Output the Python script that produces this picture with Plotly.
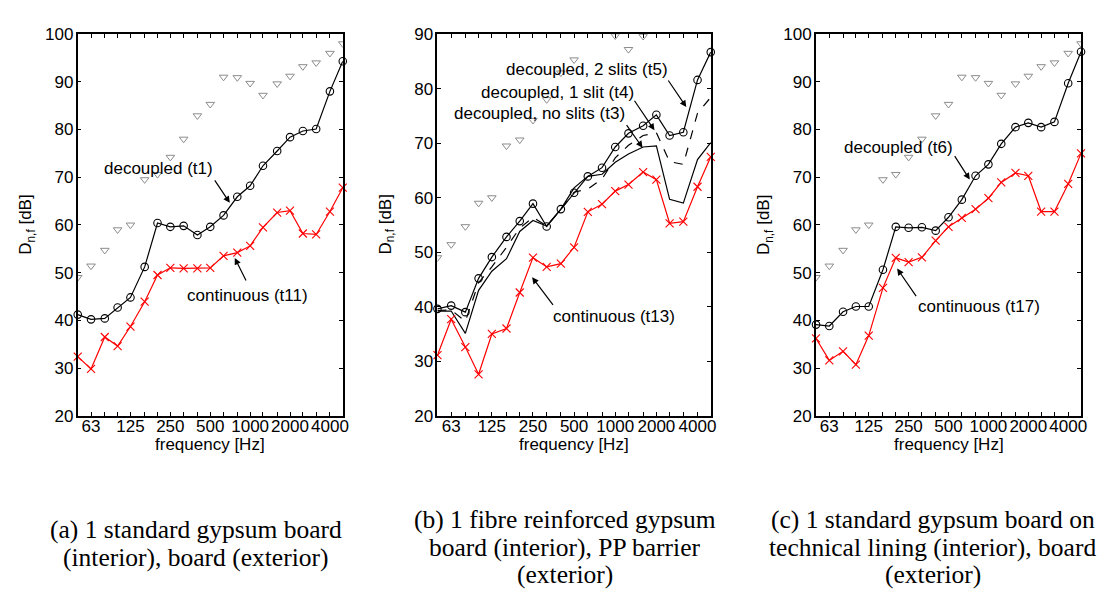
import plotly.graph_objects as go
import math

W, H = 1105, 589

# third-octave band centre frequencies [Hz]
freqs = [50, 63, 80, 100, 125, 160, 200, 250, 315, 400, 500, 630, 800, 1000,
         1250, 1600, 2000, 2500, 3150, 4000, 5000]
tick_vals = [63, 125, 250, 500, 1000, 2000, 4000]
tick_text = ["63", "125", "250", "500", "1000", "2000", "4000"]

# grey reference triangles (same in every panel)
ref_tri = [49.0, 51.4, 54.7, 59.0, 60.0, 69.5, 70.6, 74.2, 78.0, 82.9, 85.3,
           91.0, 90.9, 89.7, 87.2, 89.6, 91.2, 93.2, 94.0, 96.0, 98.0]

# panel (a)
t1 = [41.2, 40.2, 40.4, 42.7, 44.8, 51.2, 60.4, 59.6, 59.8, 57.9, 59.6, 62.0,
      65.9, 68.2, 72.4, 75.5, 78.4, 79.7, 80.1, 88.0, 94.3]
t11 = [32.4, 29.8, 36.5, 34.6, 38.7, 43.9, 49.5, 51.0, 50.9, 50.9, 51.0, 53.5,
       54.2, 55.6, 59.5, 62.6, 63.0, 58.2, 58.0, 62.8, 67.8]

# panel (b)
t5 = [39.6, 40.2, 39.0, 45.2, 49.1, 52.8, 55.7, 58.9, 54.7, 57.9, 60.9, 63.9,
      65.5, 69.3, 71.8, 73.2, 75.2, 71.4, 72.0, 81.6, 86.7]
t4 = [39.3, 39.4, 37.3, 44.4, 47.3, 50.9, 54.4, 56.4, 54.8, 57.8, 61.0, 61.6,
      63.4, 67.3, 69.6, 71.4, 71.9, 66.6, 66.1, 75.5, 78.4]
t3 = [39.2, 39.2, 35.1, 43.0, 46.5, 48.8, 53.8, 55.8, 54.8, 57.9, 61.8, 63.9,
      64.3, 66.5, 68.0, 69.3, 69.5, 59.7, 59.0, 67.0, 70.1]
t13 = [31.1, 37.7, 32.6, 27.6, 35.0, 36.0, 42.6, 49.0, 47.3, 47.9, 50.9, 57.4,
       58.8, 61.2, 62.4, 64.7, 63.3, 55.3, 55.6, 62.0, 67.5]

# panel (c)
t6 = [39.1, 38.8, 41.8, 42.9, 42.9, 50.6, 59.6, 59.4, 59.5, 58.8, 61.6, 65.3,
      70.3, 72.7, 77.0, 80.5, 81.4, 80.5, 81.6, 89.7, 96.3]
t17 = [36.2, 31.6, 33.5, 30.7, 36.8, 46.8, 53.1, 52.2, 53.2, 56.7, 59.6, 61.5,
       63.3, 65.6, 68.9, 70.9, 70.3, 62.8, 62.8, 68.6, 75.0]

y_ranges = [[20, 100], [20, 90], [20, 100]]
captions = [
    ["(a) 1 standard gypsum board", "(interior), board (exterior)"],
    ["(b) 1 fibre reinforced gypsum", "board (interior), PP barrier", "(exterior)"],
    ["(c) 1 standard gypsum board on", "technical lining (interior), board", "(exterior)"],
]

# layout geometry (pixels)
panel_px = [(70, 336.7), (431.7, 706.7), (812.3, 1079)]
top_px, bot_px = 17.7, 412

SANS = "Liberation Sans, Arial, Helvetica, sans-serif"
SERIF = "Liberation Serif, Times New Roman, serif"
FS = 17


def px(x, y):
    return x / W, 1 - y / H


fig = go.Figure()

RED = "#ff0000"


def add_panel(i, series):
    xa = "x" if i == 0 else f"x{i+1}"
    ya = "y" if i == 0 else f"y{i+1}"
    fig.add_trace(go.Scatter(x=freqs, y=ref_tri, mode="markers", xaxis=xa, yaxis=ya,
                             marker=dict(symbol="triangle-down-open", size=7.5,
                                         color="#8c8c8c", line=dict(width=1)),
                             cliponaxis=True, showlegend=False))
    for s in series:
        fig.add_trace(go.Scatter(x=freqs, y=s["y"], mode=s["mode"], xaxis=xa, yaxis=ya,
                                 line=dict(color=s["color"], width=1.2, dash=s.get("dash", "solid")),
                                 marker=dict(symbol=s.get("symbol", "circle-open"), size=s.get("size", 7.5),
                                             color=s["color"], line=dict(width=1.1, color=s["color"])),
                                 cliponaxis=False, showlegend=False))


add_panel(0, [dict(y=t1, mode="lines+markers", color="black", symbol="circle-open"),
              dict(y=t11, mode="lines+markers", color=RED, symbol="x-thin-open", size=8)])
add_panel(1, [dict(y=t3, mode="lines", color="black"),
              dict(y=t4, mode="lines", color="black", dash="dash"),
              dict(y=t5, mode="lines+markers", color="black", symbol="circle-open"),
              dict(y=t13, mode="lines+markers", color=RED, symbol="x-thin-open", size=8)])
add_panel(2, [dict(y=t6, mode="lines+markers", color="black", symbol="circle-open"),
              dict(y=t17, mode="lines+markers", color=RED, symbol="x-thin-open", size=8)])

layout = dict(width=W, height=H, margin=dict(l=0, r=0, t=0, b=0),
              paper_bgcolor="white", plot_bgcolor="white", showlegend=False)

eps = 0.0008
for i in range(3):
    xk = "xaxis" if i == 0 else f"xaxis{i+1}"
    yk = "yaxis" if i == 0 else f"yaxis{i+1}"
    xa_anchor = "y" if i == 0 else f"y{i+1}"
    ya_anchor = "x" if i == 0 else f"x{i+1}"
    x0, x1 = panel_px[i]
    layout[xk] = dict(
        type="log", range=[math.log10(freqs[0]) - eps, math.log10(freqs[-1]) + eps],
        domain=[x0 / W, x1 / W], anchor=xa_anchor,
        tickmode="array", tickvals=tick_vals, ticktext=tick_text,
        ticks="inside", ticklen=4, tickwidth=1, tickcolor="black",
        minor=dict(tickmode="array", tickvals=freqs, ticks="inside", ticklen=4,
                   tickwidth=1, tickcolor="black", showgrid=False),
        showline=True, linecolor="black", linewidth=1.5, mirror="ticks",
        showgrid=False, zeroline=False,
        tickfont=dict(family=SANS, size=FS, color="black"),
        tickangle=0, ticklabelstandoff=-6,
    )
    yr = y_ranges[i]
    layout[yk] = dict(
        range=yr, domain=[1 - bot_px / H, 1 - top_px / H], anchor=ya_anchor,
        tickmode="linear", tick0=yr[0], dtick=10,
        ticks="inside", ticklen=4, tickwidth=1, tickcolor="black",
        showline=True, linecolor="black", linewidth=1.5, mirror="ticks",
        showgrid=False, zeroline=False,
        tickfont=dict(family=SANS, size=FS, color="black"),
        ticklabelstandoff=-1,
    )

annotations = []
lbl_font = dict(family=SANS, size=FS, color="black")

for i in range(3):
    x0, x1 = panel_px[i]
    cx = (x0 + x1) / 2
    ax_, ay_ = px(cx, 442)
    annotations.append(dict(text="frequency [Hz]", x=ax_, y=ay_, xref="paper", yref="paper",
                            showarrow=False, font=lbl_font, xanchor="center", yanchor="middle"))
    lx, ly = px(x0 - 51, (top_px + bot_px) / 2)
    annotations.append(dict(text="D<sub>n,f</sub> [dB]", x=lx, y=ly, xref="paper", yref="paper",
                            showarrow=False, font=lbl_font, textangle=-90,
                            xanchor="center", yanchor="middle"))

# captions
cap_centres = [189, 560, 930]
cap_rows = {2: [530, 559], 3: [519, 548, 576]}
for i, lines in enumerate(captions):
    rows = cap_rows[len(lines)]
    for line, yy in zip(lines, rows):
        cx, cy = px(cap_centres[i], yy)
        annotations.append(dict(text=line, x=cx, y=cy, xref="paper", yref="paper",
                                showarrow=False, font=dict(family=SERIF, size=25.5, color="black"),
                                xanchor="center", yanchor="middle"))

# in-plot labels: (text, text centre, arrow head, arrow tail) in pixels
labels = [
    ("decoupled (t1)", (151, 157), (223, 192), (207, 168)),
    ("continuous (t11)", (241, 288), (228, 249), (240, 273)),
    ("decoupled, 2 slits (t5)", (582, 54), (682, 93), (663, 65)),
    ("decoupled, 1 slit (t4)", (553, 78), (650, 117), (629, 86)),
    ("decoupled, no slits (t3)", (534, 100), (638, 135), (621, 111)),
    ("continuous (t13)", (609, 309), (527, 269), (549, 298)),
    ("decoupled (t6)", (895, 135), (967, 168), (951, 143)),
    ("continuous (t17)", (976, 299), (894, 260), (914, 289)),
]
for text, (tx, ty), (hx, hy), (sx, sy) in labels:
    x_, y_ = px(tx, ty)
    annotations.append(dict(text=text, x=x_, y=y_, xref="paper", yref="paper",
                            showarrow=False, font=lbl_font, xanchor="center", yanchor="middle"))
    hx_, hy_ = px(hx, hy)
    annotations.append(dict(text="", x=hx_, y=hy_, xref="paper", yref="paper",
                            showarrow=True, ax=sx - hx, ay=sy - hy,
                            arrowhead=2, arrowsize=1.1, arrowwidth=1.2, arrowcolor="black",
                            standoff=0, startstandoff=0))

layout["annotations"] = annotations
fig.update_layout(**layout)

fig.write_html("out.html")
